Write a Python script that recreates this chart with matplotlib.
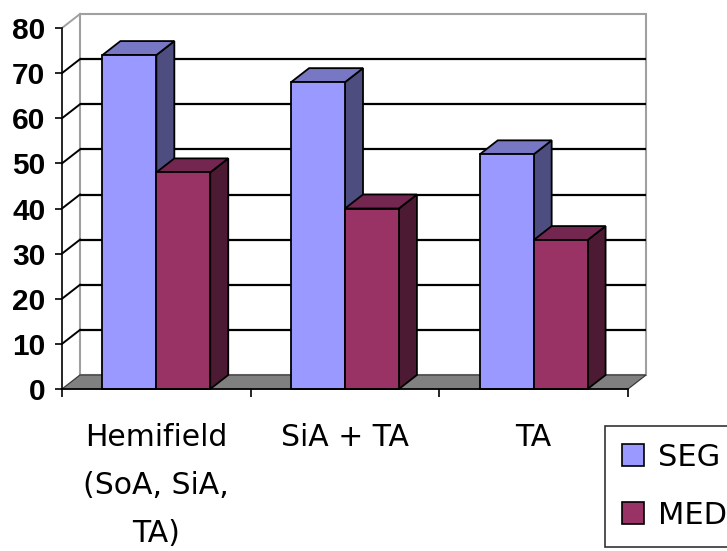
import matplotlib
matplotlib.use("Agg")
import matplotlib.pyplot as plt
import matplotlib.patches as mpatches
from matplotlib.patches import Polygon

# Data
categories = ["Hemifield\n(SoA, SiA,\nTA)", "SiA + TA", "TA"]
seg = [74, 68, 52]
med = [48, 40, 33]
series_names = ["SEG", "MED"]
yticks = [0, 10, 20, 30, 40, 50, 60, 70, 80]

# Face colours for each series: front, top, side
seg_cols = ("#9999FF", "#7777C4", "#4D4D80")
med_cols = ("#993366", "#73264F", "#4D1A33")

label_font = "DejaVu Sans"

fig = plt.figure(figsize=(7.27, 5.51), dpi=100)
W, H = 727, 551
ax = fig.add_axes([62 / W, (H - 389) / H, 566 / W, 361 / H])
ax.set_xlim(0, 3)
ax.set_ylim(0, 80)
ax.patch.set_visible(False)

# depth of the 3-D box in data units
dx = 18 / 566 * 3
dy = 14 / 361 * 80
n = len(categories)

wall_col = "#A0A0A0"

# back wall
ax.add_patch(Polygon([(dx, dy), (n + dx, dy), (n + dx, 80 + dy), (dx, 80 + dy)],
                     closed=True, facecolor="white", edgecolor=wall_col,
                     lw=1.5, clip_on=False, zorder=1))
# floor
ax.add_patch(Polygon([(0, 0), (n, 0), (n + dx, dy), (dx, dy)], closed=True,
                     facecolor="#808080", edgecolor="#3A3A3A", lw=0.9,
                     clip_on=False, zorder=2))
# gridlines on the back wall and on the left side wall
for v in yticks[1:]:
    col = wall_col if v == 80 else "black"
    if v < 80:
        ax.plot([dx, n + dx], [v + dy, v + dy], color="black", lw=1.6,
                clip_on=False, zorder=2, solid_capstyle="butt")
    ax.plot([0, dx], [v, v + dy], color=col, lw=1.4, clip_on=False, zorder=2)

# bars
w = 1 / 3.5
for i in range(n):
    for j, (vals, cols) in enumerate([(seg, seg_cols), (med, med_cols)]):
        x0 = i + 0.75 * w + j * w
        v = vals[i]
        kw = dict(closed=True, edgecolor="black", lw=1.3, clip_on=False,
                  zorder=3 + j, joinstyle="miter")
        ax.add_patch(Polygon([(x0 + w, 0), (x0 + w + dx, dy),
                              (x0 + w + dx, v + dy), (x0 + w, v)],
                             facecolor=cols[2], **kw))
        ax.add_patch(Polygon([(x0, v), (x0 + w, v), (x0 + w + dx, v + dy),
                              (x0 + dx, v + dy)], facecolor=cols[1], **kw))
        ax.add_patch(Polygon([(x0, 0), (x0 + w, 0), (x0 + w, v), (x0, v)],
                             facecolor=cols[0], **kw))

# axes, ticks and labels
for s in ["top", "right"]:
    ax.spines[s].set_visible(False)
for s in ["left", "bottom"]:
    ax.spines[s].set_linewidth(1.2)
    ax.spines[s].set_zorder(6)

ax.set_yticks(yticks)
ax.set_yticklabels([str(t) for t in yticks], fontfamily="Liberation Sans",
                   fontweight="bold", fontsize=21.5)
ax.tick_params(axis="y", direction="out", length=5, width=1.2, pad=7)

ax.set_xticks(range(n + 1))
ax.set_xticklabels([])
ax.tick_params(axis="x", which="major", direction="out", length=6, width=1.2)
ax.set_xticks([i + 0.5 for i in range(n)], minor=True)
ax.set_xticklabels(categories, minor=True, fontfamily=label_font,
                   fontsize=21.5, linespacing=1.83)
ax.tick_params(axis="x", which="minor", length=0, pad=24.5)

# legend
handles = [mpatches.Patch(facecolor=seg_cols[0], edgecolor="black", lw=1.2),
           mpatches.Patch(facecolor=med_cols[0], edgecolor="black", lw=1.2)]
leg = fig.legend(handles, series_names, loc="upper left",
                 bbox_to_anchor=(605 / W, 1 - 426 / H),
                 prop={"family": label_font, "size": 22},
                 handlelength=0.72, handleheight=0.72, handletextpad=0.45,
                 labelspacing=0.95, borderpad=0.55, borderaxespad=0,
                 frameon=True, fancybox=False, shadow=False)
leg.get_frame().set_edgecolor("black")
leg.get_frame().set_linewidth(1.2)

fig.savefig("out.png", dpi=100)
